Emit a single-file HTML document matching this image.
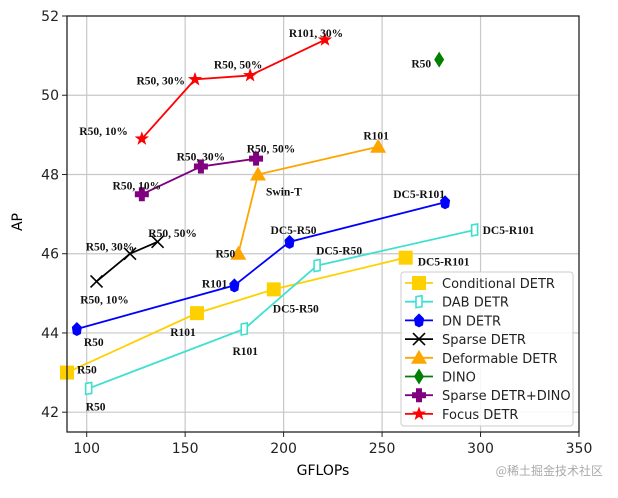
<!DOCTYPE html>
<html><head><meta charset="utf-8"><style>
body{margin:0;background:#fff;width:618px;height:493px;overflow:hidden}
svg text{font-family:"DejaVu Sans","Liberation Sans",sans-serif}
.lb{font-family:"Liberation Serif",serif!important;font-weight:bold;font-size:11.5px;fill:#111}
</style></head><body>
<svg id="chart" width="618" height="493" xmlns="http://www.w3.org/2000/svg">
<g id="grid"></g><g id="series"></g><g id="axes"></g><g id="legend"></g>
<text x="22" y="222" font-size="14" text-anchor="middle" transform="rotate(-90 22 222)">AP</text>
<text x="323" y="475" font-size="14" text-anchor="middle">GFLOPs</text>
<text x="603" y="475" font-size="12" text-anchor="end" fill="#aaa" style="font-family:'Noto Sans CJK SC',sans-serif">@稀土掘金技术社区</text>
</svg>
<script>
const xTicks=[100,150,200,250,300,350];
const yTicks=[42,44,46,48,50,52];
const seriesNames=["Conditional DETR","DAB DETR","DN DETR","Sparse DETR","Deformable DETR","DINO","Sparse DETR+DINO","Focus DETR"];
const condX=[90,156,195,262], condY=[43,44.5,45.1,45.9], condL=["R50","R101","DC5-R50","DC5-R101"];
const dabX=[101,180,217,297], dabY=[42.6,44.1,45.7,46.6], dabL=["R50","R101","DC5-R50","DC5-R101"];
const dnX=[95,175,203,282], dnY=[44.1,45.2,46.3,47.3], dnL=["R50","R101","DC5-R50","DC5-R101"];
const spX=[105,122,136], spY=[45.3,46.0,46.3], spL=["R50, 10%","R50, 30%","R50, 50%"];
const defX=[177,187,248], defY=[46.0,48.0,48.7], defL=["R50","Swin-T","R101"];
const dinoX=[279], dinoY=[50.9], dinoL=["R50"];
const sdX=[128,158,186], sdY=[47.5,48.2,48.4], sdL=["R50, 10%","R50, 30%","R50, 50%"];
const foX=[128,155,183,221], foY=[48.9,50.4,50.5,51.4], foL=["R50, 10%","R50, 30%","R50, 50%","R101, 30%"];

const X0=67,X1=579,Y0=16,Y1=432,xmin=90,xmax=350,ymin=41.5,ymax=52;
const sx=v=>X0+(v-xmin)/(xmax-xmin)*(X1-X0);
const sy=v=>Y1-(v-ymin)/(ymax-ymin)*(Y1-Y0);
const NS="http://www.w3.org/2000/svg";
function mk(tag,attrs,parent){const e=document.createElementNS(NS,tag);for(const k in attrs)e.setAttribute(k,attrs[k]);parent.appendChild(e);return e;}
const grid=document.getElementById('grid'),axes=document.getElementById('axes'),ser=document.getElementById('series'),leg=document.getElementById('legend');
xTicks.forEach(t=>{const x=sx(t);
 if(t<xmax){const g=mk('line',{x1:x,x2:x,y1:Y0,y2:Y1,stroke:'#c8c8c8','stroke-width':1.2},grid);}
 mk('line',{x1:x,x2:x,y1:Y1,y2:Y1+5,stroke:'#222'},axes);
 const tx=mk('text',{x:x,y:Y1+21,'font-size':14,'text-anchor':'middle',fill:'#222'},axes);tx.textContent=t;
 
 });
yTicks.forEach(t=>{const y=sy(t);
 if(t<ymax){const g=mk('line',{x1:X0,x2:X1,y1:y,y2:y,stroke:'#c8c8c8','stroke-width':1.2},grid);}
 mk('line',{x1:X0-5,x2:X0,y1:y,y2:y,stroke:'#222'},axes);
 const tx=mk('text',{x:X0-8,y:y+5,'font-size':14,'text-anchor':'end',fill:'#222'},axes);tx.textContent=t;
 
 });
const fr=mk('rect',{x:X0,y:Y0,width:X1-X0,height:Y1-Y0,fill:'none',stroke:'#222','stroke-width':1.3},axes);



function marker(type,color,x,y,p){
 switch(type){
 case 'sq':return mk('rect',{x:x-7,y:y-7,width:14,height:14,fill:color},p);
 case 'dab':return mk('path',{d:`M${x-3} ${y-5}L${x+3} ${y-6}L${x+3} ${y+5}L${x-3} ${y+6}Z`,fill:'#fff',stroke:color,'stroke-width':1.6},p);
 case 'dn':return mk('path',{d:`M${x} ${y-7}L${x+5} ${y-2}L${x+4} ${y+5}L${x} ${y+7}L${x-4} ${y+5}L${x-5} ${y-2}Z`,fill:color},p);
 case 'x':return mk('path',{d:`M${x-6} ${y-6}L${x+6} ${y+6}M${x-6} ${y+6}L${x+6} ${y-6}`,stroke:color,'stroke-width':1.6,fill:'none'},p);
 case 'tri':return mk('path',{d:`M${x} ${y-8}L${x+8} ${y+6}L${x-8} ${y+6}Z`,fill:color},p);
 case 'dia':return mk('path',{d:`M${x} ${y-8}L${x+5} ${y}L${x} ${y+8}L${x-5} ${y}Z`,fill:color},p);
 case 'plus':return mk('path',{d:`M${x-3} ${y-7}h6v4h4v6h-4v4h-6v-4h-4v-6h4z`,fill:color},p);
 case 'star':{let d='';for(let i=0;i<10;i++){const r=i%2?3:7.5,a=-Math.PI/2+i*Math.PI/5;d+=(i?'L':'M')+(x+r*Math.cos(a)).toFixed(1)+' '+(y+r*Math.sin(a)).toFixed(1);}return mk('path',{d:d+'Z',fill:color},p);}
 }}
const S=[
 {n:0,xs:condX,ys:condY,ls:condL,c:'#FFD000',m:'sq',o:[[10,-3,'start'],[-14,19,'middle'],[-1,19,'start'],[12,4,'start']]},
 {n:1,xs:dabX,ys:dabY,ls:dabL,c:'#40E0D0',m:'dab',o:[[7,18,'middle'],[1,22,'middle'],[22,-15,'middle'],[8,0,'start']]},
 {n:2,xs:dnX,ys:dnY,ls:dnL,c:'#0000FF',m:'dn',o:[[7,13,'start'],[-7,-2,'end'],[4,-12,'middle'],[-26,-8,'middle']]},
 {n:3,xs:spX,ys:spY,ls:spL,c:'#000',m:'x',o:[[8,18,'middle'],[-20,-7,'middle'],[15,-9,'middle']]},
 {n:4,xs:defX,ys:defY,ls:defL,c:'#FFA500',m:'tri',o:[[-3,0,'end'],[8,17,'start'],[-2,-11,'middle']]},
 {n:5,xs:dinoX,ys:dinoY,ls:dinoL,c:'#008000',m:'dia',o:[[-8,4,'end']]},
 {n:6,xs:sdX,ys:sdY,ls:sdL,c:'#800080',m:'plus',o:[[-5,-9,'middle'],[0,-10,'middle'],[15,-10,'middle']]},
 {n:7,xs:foX,ys:foY,ls:foL,c:'#FF0000',m:'star',o:[[-14,-8,'end'],[-10,1,'end'],[-12,-11,'middle'],[-9,-7,'middle']]},
];
const keys=['conditional-detr','dab-detr','dn-detr','sparse-detr','deformable-detr','dino','sparse-detr-dino','focus-detr'];
S.forEach(s=>{
 const g=mk('g',{},ser);
 
 
 if(s.xs.length>1){const pl=mk('polyline',{points:s.xs.map((v,i)=>sx(v)+','+sy(s.ys[i])).join(' '),fill:'none',stroke:s.c,'stroke-width':1.8},g);
  
  }
 s.xs.forEach((v,i)=>{const x=sx(v),y=sy(s.ys[i]);
  const m=marker(s.m,s.c,x,y,g);
  
  
  const o=s.o[i]||[0,-10,'middle'];
  const t=mk('text',{x:x+o[0],y:y+o[1]+4,'text-anchor':o[2],class:'lb'},g);t.textContent=s.ls[i];
  
  });
});
const lb=mk('rect',{x:401,y:272,width:172,height:154,fill:'#fff','fill-opacity':0.85,stroke:'#ccc',rx:3},leg);


S.forEach((s,i)=>{const y=283+i*18.7;
 const g=mk('g',{},leg);
 
 
 mk('line',{x1:405,x2:433,y1:y,y2:y,stroke:s.c,'stroke-width':1.8},g);
 marker(s.m,s.c,419,y,g);
 const t=mk('text',{x:442,y:y+5,'font-size':13,fill:'#222'},g);t.textContent=seriesNames[i];});
</script>
</body></html>
